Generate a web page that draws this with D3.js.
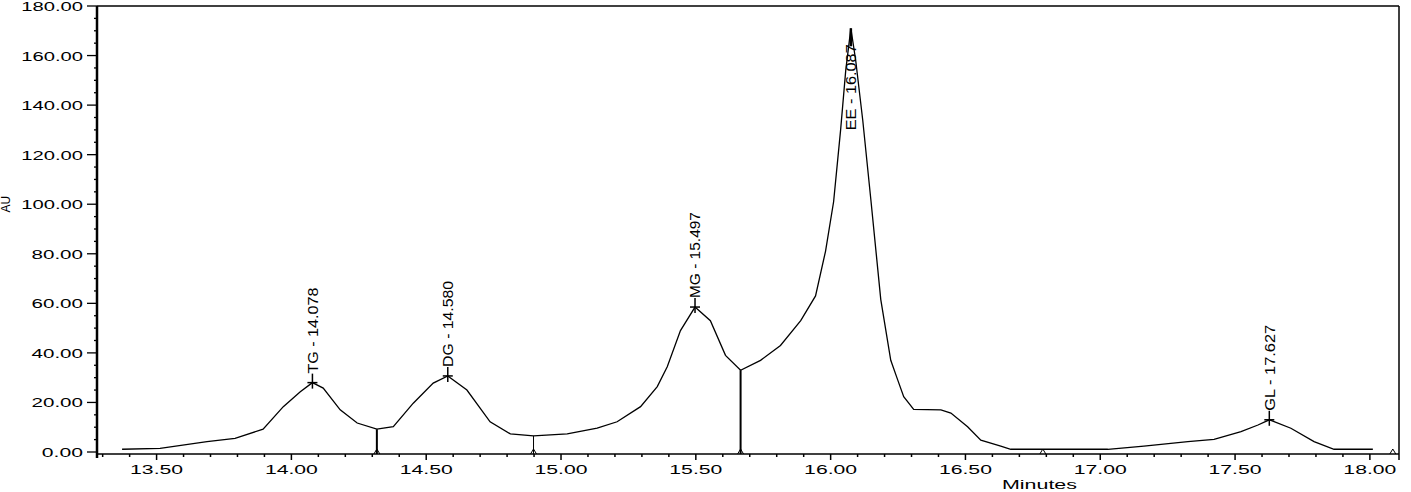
<!DOCTYPE html>
<html>
<head>
<meta charset="utf-8">
<script src="https://cdn.jsdelivr.net/npm/d3@7"></script>
<style>
  body { margin: 0; background: #fff; overflow: hidden; }
  svg { display: block; }
  text { font-family: "Liberation Sans", Arial, sans-serif; fill: #000; }
</style>
</head>
<body>
<div id="chart"></div>
<script>
// chromatogram trace (minutes, AU)
const times = [13.372, 13.513, 13.687, 13.791, 13.895, 13.970, 14.033, 14.078, 14.118, 14.181,
  14.244, 14.317, 14.378, 14.452, 14.526, 14.580, 14.651, 14.737, 14.812, 14.898,
  15.023, 15.134, 15.208, 15.295, 15.357, 15.394, 15.443, 15.497, 15.554, 15.610,
  15.666, 15.740, 15.814, 15.889, 15.944, 15.981, 16.011, 16.037, 16.056, 16.075,
  16.093, 16.119, 16.149, 16.186, 16.223, 16.249, 16.271, 16.308, 16.409, 16.446,
  16.508, 16.557, 16.631, 16.668, 17.028, 17.162, 17.325, 17.422, 17.522, 17.585,
  17.627, 17.707, 17.793, 17.867, 18.011];
const values = [1.1, 1.5, 4.2, 5.5, 9.2, 18.3, 24.3, 28.0, 25.8, 17.0,
  11.7, 9.2, 10.2, 19.7, 27.8, 30.7, 25.0, 12.2, 7.3, 6.5,
  7.3, 9.6, 12.2, 18.3, 26.4, 34.4, 49.0, 58.5, 53.0, 39.0,
  33.0, 37.0, 43.0, 53.0, 63.0, 81.0, 101.0, 130.0, 154.0, 171.0,
  158.0, 134.0, 102.0, 61.5, 37.0, 29.0, 22.3, 17.2, 17.0, 15.7,
  10.2, 4.8, 2.4, 1.1, 1.1, 2.4, 4.2, 5.1, 8.2, 10.9,
  13.0, 9.6, 4.2, 1.1, 1.1];

// peaks
const peakNames = ['TG - 14.078', 'DG - 14.580', 'MG - 15.497', 'EE - 16.087', 'GL - 17.627'];
const peakTimes = [14.078, 14.580, 15.497, 16.075, 17.627];
const peakValues = [28.0, 30.7, 58.5, 171.0, 13.0];

// valley drop lines
const dropTimes = [14.317, 14.898, 15.666];
const dropValues = [9.2, 6.5, 33.0];
const dropWidths = [2, 1, 2];
const baseMarks = [14.317, 14.898, 15.666, 16.787, 18.085];

const yTicks = [0, 20, 40, 60, 80, 100, 120, 140, 160, 180];
const xTicks = [13.5, 14.0, 14.5, 15.0, 15.5, 16.0, 16.5, 17.0, 17.5, 18.0];

const W = 1411, H = 492;
const svg = d3.select('#chart').append('svg').attr('width', W).attr('height', H);

const x = d3.scaleLinear().domain([13.279, 18.108]).range([97, 1399]);
const y = d3.scaleLinear().domain([0, 180]).range([452, 6]);
const axisY = y(0) + 2;

// frame
svg.append('line').attr('x1', x.range()[0]).attr('x2', x.range()[1]).attr('y1', 6).attr('y2', 6)
  .attr('stroke', '#000').attr('stroke-width', 1.5);
svg.append('line').attr('x1', x.range()[1]).attr('x2', x.range()[1]).attr('y1', 6).attr('y2', axisY + 6)
  .attr('stroke', '#000').attr('stroke-width', 1.5);

// y axis
const yAxis = svg.append('g').attr('transform', `translate(${x.range()[0]},0)`);
yAxis.append('line').attr('y1', 6).attr('y2', axisY + 4).attr('stroke', '#000').attr('stroke-width', 2.5);
yAxis.selectAll('.ymin').data(d3.range(0, 181, 5)).enter().append('line')
  .attr('x1', d => d % 20 === 0 ? -10 : -3).attr('x2', 0)
  .attr('y1', d => y(d)).attr('y2', d => y(d))
  .attr('stroke', '#000').attr('stroke-width', 1.3);
yAxis.selectAll('text').data(yTicks).enter().append('text')
  .attr('x', -14).attr('y', d => y(d) + 5)
  .attr('text-anchor', 'end')
  .style('font-size', '13px')
  .attr('textLength', d => d.toFixed(2).length * 10.3)
  .attr('lengthAdjust', 'spacingAndGlyphs')
  .text(d => d.toFixed(2));

svg.append('text')
  .attr('transform', `translate(10,${y(100)}) rotate(-90)`)
  .attr('text-anchor', 'middle')
  .style('font-size', '12px')
  .text('AU');

// x axis
const xAxis = svg.append('g').attr('transform', `translate(0,${axisY})`);
xAxis.append('line').attr('x1', x.range()[0]).attr('x2', x.range()[1])
  .attr('stroke', '#000').attr('stroke-width', 1.5);
const minorX = d3.range(133, 181).map(d => d / 10);
xAxis.selectAll('.xmin').data(minorX).enter().append('line')
  .attr('x1', d => x(d)).attr('x2', d => x(d))
  .attr('y1', 0).attr('y2', d => Math.abs(d * 2 - Math.round(d * 2)) < 1e-6 ? 6 : 3)
  .attr('stroke', '#000').attr('stroke-width', 1.5);
xAxis.selectAll('text').data(xTicks).enter().append('text')
  .attr('x', d => x(d)).attr('y', 20)
  .attr('text-anchor', 'middle')
  .style('font-size', '12px')
  .attr('textLength', 53)
  .attr('lengthAdjust', 'spacingAndGlyphs')
  .text(d => d.toFixed(2));

svg.append('text')
  .attr('x', 1002).attr('y', 489)
  .style('font-size', '12px')
  .attr('textLength', 75)
  .attr('lengthAdjust', 'spacingAndGlyphs')
  .text('Minutes');

// drop lines
dropTimes.forEach((t, i) => {
  svg.append('line')
    .attr('x1', x(t)).attr('x2', x(t))
    .attr('y1', y(dropValues[i])).attr('y2', axisY)
    .attr('stroke', '#000').attr('stroke-width', dropWidths[i]);
});
baseMarks.forEach(t => {
  svg.append('path')
    .attr('d', `M${x(t) - 3},${axisY} L${x(t)},${axisY - 5} L${x(t) + 3},${axisY}`)
    .attr('fill', 'none').attr('stroke', '#000').attr('stroke-width', 1);
});

// trace
const trace = times.map((t, i) => [t, values[i]]);
svg.append('path').datum(trace)
  .attr('fill', 'none').attr('stroke', '#000').attr('stroke-width', 1.3)
  .attr('d', d3.line().x(d => x(d[0])).y(d => y(d[1])));

// peak markers and labels
peakNames.forEach((name, i) => {
  const px = x(peakTimes[i]), py = y(peakValues[i]);
  const top = i === 3;
  svg.append('line').attr('x1', px - 5).attr('x2', px + 5).attr('y1', py).attr('y2', py)
    .attr('stroke', '#000').attr('stroke-width', top ? 0 : 1.5);
  svg.append('line').attr('x1', px).attr('x2', px)
    .attr('y1', top ? py : py - 9).attr('y2', top ? py + 18 : py + 6)
    .attr('stroke', '#000').attr('stroke-width', top ? 2.5 : 1.5);
  const bottom = top ? py + 102 : py - 9;
  svg.append('text')
    .attr('transform', `translate(${px},${bottom}) rotate(-90)`)
    .attr('dy', '0.36em')
    .style('font-size', '15px')
    .attr('textLength', 86)
    .attr('lengthAdjust', 'spacingAndGlyphs')
    .text(name);
});
</script>
</body>
</html>
